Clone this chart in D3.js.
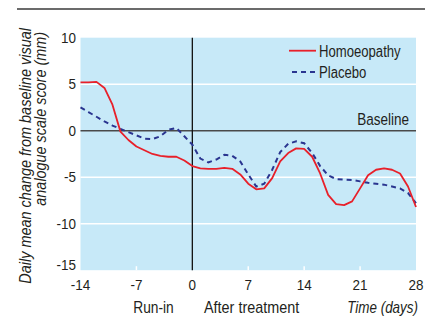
<!DOCTYPE html>
<html><head><meta charset="utf-8">
<script src="https://cdn.jsdelivr.net/npm/d3@7"></script>
<style>
html,body{margin:0;padding:0;background:#fff;}
svg text{font-family:"Liberation Sans Narrow","Arial Narrow","Liberation Sans",Arial,sans-serif;fill:#231f20;}
</style></head>
<body>
<svg id="c" width="425" height="320"></svg>
<script>
const days = d3.range(-14, 29);
const homoeopathy = [5.2,5.2,5.25,4.6,2.8,-0.1,-1.0,-1.7,-2.1,-2.5,-2.7,-2.8,-2.8,-3.2,
  -3.8,-4.05,-4.1,-4.1,-4.0,-4.1,-4.7,-5.7,-6.3,-6.2,-5.1,-3.3,-2.4,-1.9,-1.95,-2.8,
  -4.6,-6.9,-7.9,-8.0,-7.6,-6.2,-4.8,-4.2,-4.05,-4.2,-4.6,-6.0,-8.2];
const placebo = [2.5,2.0,1.5,1.0,0.55,0.2,-0.15,-0.5,-0.85,-0.9,-0.6,0.1,0.3,-0.6,
  -1.5,-3.0,-3.4,-3.1,-2.6,-2.7,-3.3,-4.7,-6.0,-5.7,-4.2,-2.3,-1.4,-1.15,-1.35,-2.4,
  -3.8,-4.8,-5.2,-5.25,-5.3,-5.45,-5.6,-5.7,-5.8,-6.0,-6.2,-6.7,-7.8];
const xTicks = [-14,-7,0,7,14,21,28];
const yTicks = [10,5,0,-5,-10,-15];
const seriesNames = ["Homoeopathy","Placebo"];
const periodLabels = ["Run-in","After treatment"];
const yTitle = ["Daily mean change from baseline visual","analogue scale score (mm)"];
const xTitle = "Time (days)";

const svg = d3.select("#c");
const L = 80.5, R = 416, T = 37.7, B = 270.2;
const x = d3.scaleLinear().domain([-14,28]).range([L,R]);
const y = d3.scaleLinear().domain([-15,10]).range([B,T]);

// condensed text helper
function txt(parent, tx, ty, str, o) {
  o = o || {};
  const g = parent.append("g")
    .attr("transform", `translate(${tx},${ty})` + (o.rot ? ` rotate(${o.rot})` : "") + ` scale(${o.sx || 0.86},1)`);
  const t = g.append("text").attr("x",0).attr("y",0)
    .attr("text-anchor", o.anchor || "start")
    .attr("font-size", o.size || 16)
    .text(str);
  if (o.dy) t.attr("dy", o.dy);
  if (o.italic) t.attr("font-style","italic");
  return g;
}

// top rule
svg.append("line").attr("x1",17).attr("x2",425).attr("y1",9).attr("y2",9)
  .attr("stroke","#3a3a3a").attr("stroke-width",1.5);

// plot bg
svg.append("rect").attr("x",L).attr("y",T).attr("width",R-L).attr("height",B-T).attr("fill","#c7e9f8");

// white gridlines
svg.append("g").selectAll("line").data(yTicks.filter(v=>v!==0 && v!==10 && v!==-15)).join("line")
  .attr("x1",L).attr("x2",R).attr("y1",d=>y(d)).attr("y2",d=>y(d))
  .attr("stroke","#fff").attr("stroke-width",1.6);

// x ticks (white, inward)
svg.append("g").selectAll("line").data(xTicks.filter(v=>v!==-14 && v!==28 && v!==0)).join("line")
  .attr("x1",d=>x(d)).attr("x2",d=>x(d)).attr("y1",B).attr("y2",B-4)
  .attr("stroke","#fff").attr("stroke-width",1.5);

// baseline
svg.append("line").attr("x1",L).attr("x2",R).attr("y1",y(0)).attr("y2",y(0))
  .attr("stroke","#4a4a4a").attr("stroke-width",1.5);
txt(svg, 409, y(0)-5.5, "Baseline", {anchor:"end", size:16.5, sx:0.82});

// vertical line at day 0
svg.append("line").attr("x1",x(0)).attr("x2",x(0)).attr("y1",T).attr("y2",B)
  .attr("stroke","#111").attr("stroke-width",1.3);

// lines
const line = d3.line().x((d,i)=>x(days[i])).y(d=>y(d)).curve(d3.curveLinear);
svg.append("path").datum(placebo).attr("d",line).attr("fill","none")
  .attr("stroke","#2a3590").attr("stroke-width",2).attr("stroke-dasharray","5,4");
svg.append("path").datum(homoeopathy).attr("d",line).attr("fill","none")
  .attr("stroke","#e8202a").attr("stroke-width",1.8).attr("stroke-linejoin","round");

// y tick labels (lowest one sits on the plot bottom)
yTicks.forEach((v,i) => txt(svg, 76, y(v), v,
  {anchor:"end", size:14.5, sx:0.93, dy: i === yTicks.length-1 ? "0.02em" : "0.36em"}));

// x tick labels
xTicks.forEach(v => txt(svg, x(v), 290, v, {anchor:"middle", size:14.5, sx:0.93}));

// period labels
txt(svg, 153.5, 313, periodLabels[0], {anchor:"middle", size:16});
txt(svg, 204, 313, periodLabels[1], {anchor:"start", size:16, sx:0.9});
txt(svg, 418, 313, xTitle, {anchor:"end", size:16, sx:0.84, italic:true});

// y title
txt(svg, 31, 28, yTitle[0], {anchor:"end", size:16, sx:0.905, rot:-90, italic:true});
txt(svg, 46, 32, yTitle[1], {anchor:"end", size:16, sx:0.9, rot:-90, italic:true});

// legend
const lg = svg.append("g");
lg.append("line").attr("x1",289).attr("x2",316).attr("y1",50.7).attr("y2",50.7)
  .attr("stroke","#e8202a").attr("stroke-width",1.8);
txt(lg, 319, 56.8, seriesNames[0], {size:16, sx:0.82});
lg.append("line").attr("x1",292).attr("x2",316).attr("y1",72).attr("y2",72)
  .attr("stroke","#2a3590").attr("stroke-width",2).attr("stroke-dasharray","5,4");
txt(lg, 319, 77.8, seriesNames[1], {size:16, sx:0.82});
</script>
</body></html>
